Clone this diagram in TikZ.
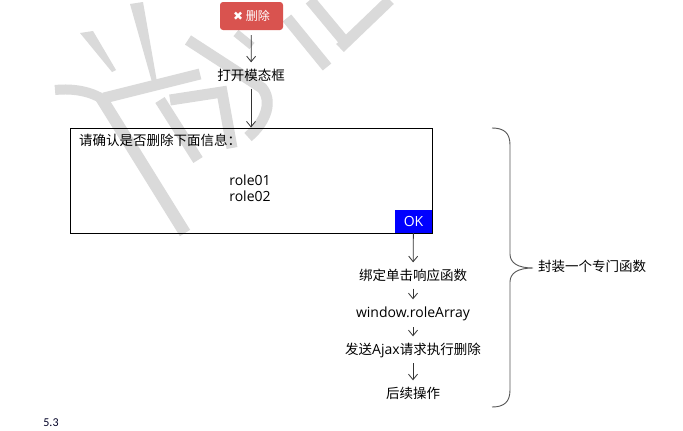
\documentclass[tikz,border=0pt]{standalone}
\usepackage{fontspec}
\setmainfont{Open Sans}
\newfontfamily\cjkfont{Noto Sans CJK SC}
\newfontfamily\symfont{DejaVu Sans}
\newfontfamily\carlitofont{Carlito}
\usetikzlibrary{arrows.meta}
\definecolor{btnred}{HTML}{D9534F}
\definecolor{wmgray}{HTML}{DADADA}
\definecolor{arrowgray}{HTML}{333333}
\definecolor{bracegray}{HTML}{555555}
\tikzset{
  wm/.style={wmgray, line width=11pt, line cap=butt},
  arr/.style={arrowgray, line width=0.8pt, -{Straight Barb[length=5.5pt,width=9pt]}, shorten <=5pt, shorten >=8pt},
  lbl/.style={inner sep=0pt, text height=10pt, text depth=3pt, font=\fontsize{13.5}{15}\cjkfont},
  lat/.style={inner sep=0pt, text height=10pt, text depth=3pt, font=\fontsize{14}{16}\selectfont},
}
\begin{document}
\begin{tikzpicture}[x=1pt, y=-1pt]
\useasboundingbox[fill=white] (0,0) rectangle (683,431);
% watermark
\fill[wmgray] (80,33) -- (93,31) -- (116,70) -- (112,72) -- cycle;
\fill[wmgray] (130,4) -- (143,2) -- (157,82) -- (152,82) -- cycle;
\draw[wm, line width=10pt] (55,90) .. controls (75,88) and (92,92) .. (104,100);
\draw[wm, line width=12pt] (100,96) -- (185,233);
\draw[wm] (104,98) -- (200,74);
\draw[wm] (188,40) -- (262,88) .. controls (272,100) and (268,120) .. (248,137);
\draw[wm] (160,100) -- (198,160);
\draw[wm] (170,100) -- (222,92) -- (232,148);
\draw[wm, line width=8pt] (236,33) -- (252,46);
\draw[wm] (287,18) -- (327,67);
\draw[wm] (310,0) -- (345,42);
\draw[wm] (390,0) -- (340,48);
% delete button
\node[fill=btnred, rounded corners=3pt, minimum width=63pt, minimum height=28pt, inner sep=0pt, text=white]
  (del) at (251.5,16) {{\symfont\fontsize{12}{13}\selectfont ✖}\kern2.5pt{\cjkfont\fontsize{12}{13}\selectfont 删除}};
\node[lbl] (open) at (251,77) {打开模态框};
% dialog
\node[draw, line width=1pt, minimum width=362pt, minimum height=105pt, inner sep=0pt] (dlg) at (251,180.5) {};
\node[lbl, anchor=west] (q) at (79,142) {请确认是否删除下面信息：};
\node[lat] (r1) at (250,182) {role01};
\node[lat] (r2) at (250,198) {role02};
\node[fill=blue, minimum width=37pt, minimum height=23pt, inner sep=0pt, text=white, font=\fontsize{14}{16}\selectfont]
  (ok) at (413.5,221.5) {OK};
% steps
\node[lbl] (bind) at (413,277) {绑定单击响应函数};
\node[lat] (win) at (413,314) {window.roleArray};
\node[lbl] (ajax) at (413,351) {发送{\fontsize{14}{16}\fontspec{Open Sans}Ajax}请求执行删除};
\node[lbl] (after) at (413,395) {后续操作};
% arrows
\draw[arr] (del) -- (open);
\draw[arr, shorten >=0pt] (open) -- (dlg);
\draw[arr, shorten <=0pt] (ok) -- (bind);
\draw[arr] (bind) -- (win);
\draw[arr, shorten <=6.5pt] (win) -- (ajax);
\draw[arr, shorten <=5.5pt] (ajax) -- (after);
% brace
\coordinate (btop) at (492,128);
\coordinate (btip) at (533,268);
\coordinate (bbot) at (492,407);
\draw[bracegray, line width=0.9pt]
  (btop) .. controls (504,128) and (510,133) .. (510,145)
  -- (510,254) .. controls (510,263) and (518,268) .. (btip)
  .. controls (518,268) and (510,273) .. (510,282)
  -- (510,390) .. controls (510,402) and (504,407) .. (bbot);
\node[lbl, anchor=west] (pkg) at (538,268) {封装一个专门函数};
\node[inner sep=0pt, font=\fontsize{12}{14}\carlitofont, text=black!85!blue] (num) at (51,423) {5.3};
\end{tikzpicture}
\end{document}
